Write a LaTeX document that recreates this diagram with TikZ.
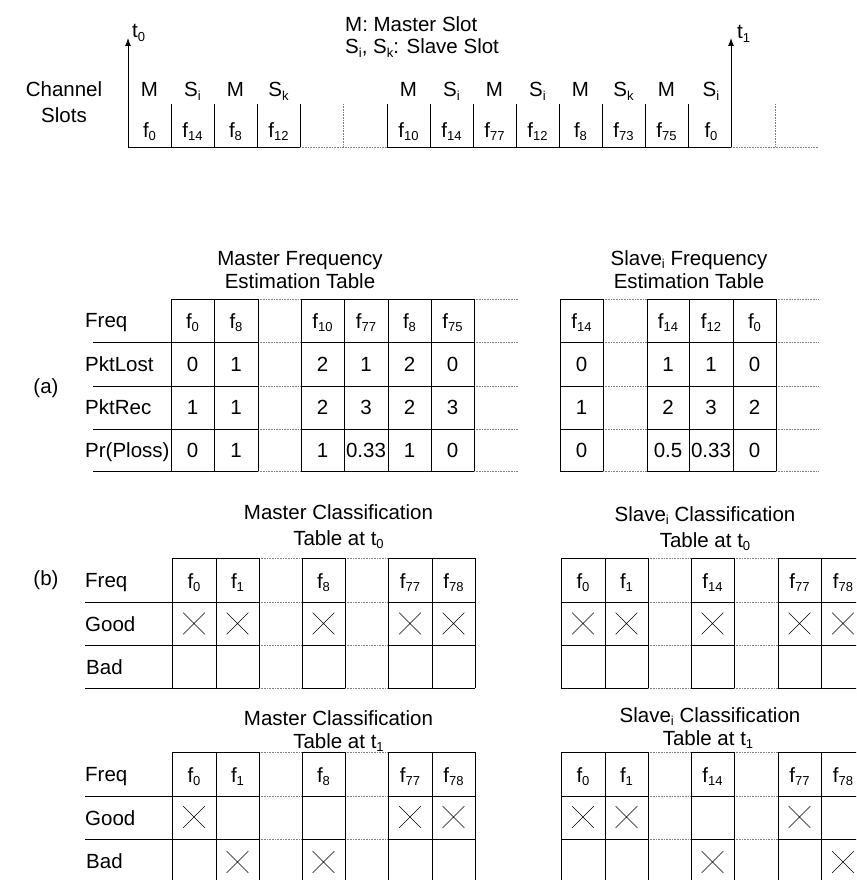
\documentclass[tikz,border=0pt]{standalone}
\usepackage{fontspec}
\setmainfont{Liberation Sans}
\usetikzlibrary{positioning,arrows.meta,shapes.misc}

\newcommand{\lsub}[1]{\raisebox{-3.4pt}{\fontsize{13}{13}\selectfont #1}}
\newcommand{\fq}[1]{f\lsub{#1}}

\tikzset{
  txt/.style={font=\fontsize{20.5}{24}\selectfont, inner sep=0pt},
  solidline/.style={line width=1pt},
  dotline/.style={gray, line width=0.8pt, dash pattern=on 0.8pt off 0.8pt},
  xmark/.style={cross out, draw, line width=0.6pt, minimum size=21pt, inner sep=0pt}
}

\begin{document}
\begin{tikzpicture}[x=1pt, y=-1pt]
\useasboundingbox (0,0) rectangle (856,880);
\clip (0,0) rectangle (856,880);

% Channel Slots
\node[txt, anchor=base] (chanA) at (64,97) {Channel};
\node[txt, anchor=base] (chanB) at (64,123) {Slots};

\node[txt, anchor=base west] (keyM) at (345,32) {M: Master Slot};
\node[txt, anchor=base west] (keyS) at (345,54) {S\lsub{i}, S\lsub{k}: Slave Slot};

\coordinate (t0base) at (128,147);
\coordinate (t0tip) at (128,38);
\coordinate (t1base) at (731,147);
\coordinate (t1tip) at (731,38);
\draw[solidline, -{Latex[length=8pt,width=6pt]}] (t0base) -- (t0tip);
\draw[solidline, -{Latex[length=8pt,width=6pt]}] (t1base) -- (t1tip);
\node[txt, anchor=base west] (tzero) at (132,38) {t\lsub{0}};
\node[txt, anchor=base west] (tone) at (737,39) {t\lsub{1}};

\draw[solidline] (t0base) -- (300,147);
\draw[dotline] (300,147) -- (387,147);
\draw[solidline] (387,147) -- (t1base);
\draw[dotline] (t1base) -- (818,147);
\foreach \x in {171,214,257,300,387,430,473,516,559,602,645,688}
  \draw[solidline] (\x,104) -- (\x,147);
\foreach \x in {343,775}
  \draw[dotline] (\x,104) -- (\x,147);

\foreach \x/\s/\f [count=\i] in {149.5/M/0, 192.5/S\lsub{i}/14, 235.5/M/8,
    278.5/S\lsub{k}/12, 408.5/M/10, 451.5/S\lsub{i}/14, 494.5/M/77,
    537.5/S\lsub{i}/12, 580.5/M/8, 623.5/S\lsub{k}/73, 666.5/M/75, 711/S\lsub{i}/0} {
  \node[txt, anchor=base] (slot\i) at (\x,97) {\s};
  \node[txt, anchor=base] (chf\i) at (\x,137) {\fq{\f}};
}

% (a) Frequency Estimation Tables
\node[txt, anchor=base] (parta) at (46,393) {(a)};

\node[txt, anchor=base] (mfestA) at (300,265) {Master Frequency};
\node[txt, anchor=base] (mfestB) at (300,288) {Estimation Table};
\node[txt, anchor=base] (sfestA) at (689,265) {Slave\lsub{i} Frequency};
\node[txt, anchor=base] (sfestB) at (689,288) {Estimation Table};

\foreach \y in {342,386,429,471}
  \draw[solidline] (93,\y) -- (258,\y) (301,\y) -- (474,\y);
\draw[solidline] (171,299) -- (258,299) (301,299) -- (474,299);
\foreach \y in {299,342,386,429,471} {
  \draw[dotline] (258,\y) -- (301,\y) (474,\y) -- (518,\y);
  \draw[solidline] (560,\y) -- (603,\y) (647,\y) -- (776,\y);
  \draw[dotline] (603,\y) -- (647,\y) (776,\y) -- (818,\y);
}
\foreach \x in {171,214,258,301,344,388,431,474,560,603,647,689,733,776}
  \draw[solidline] (\x,299) -- (\x,471);

\foreach \t/\y [count=\i] in {Freq/327.5, PktLost/371, PktRec/414.5, Pr(Ploss)/457}
  \node[txt, anchor=base west] (mrow\i) at (85,\y) {\t};

\foreach \x/\f/\a/\b/\c [count=\i] in {192.5/0/0/1/0, 236/8/1/1/1, 322.5/10/2/2/1,
    366/77/1/3/0.33, 409.5/8/2/2/1, 452.5/75/0/3/0} {
  \node[txt, anchor=base] (mf\i) at (\x,328.5) {\fq{\f}};
  \node[txt, anchor=base] (ml\i) at (\x,371) {\a};
  \node[txt, anchor=base] (mr\i) at (\x,414.5) {\b};
  \node[txt, anchor=base] (mp\i) at (\x,457) {\c};
}
\foreach \x/\f/\a/\b/\c [count=\i] in {581.5/14/0/1/0, 668/14/1/2/0.5,
    711/12/1/3/0.33, 754.5/0/0/2/0} {
  \node[txt, anchor=base] (sf\i) at (\x,328.5) {\fq{\f}};
  \node[txt, anchor=base] (sl\i) at (\x,371) {\a};
  \node[txt, anchor=base] (sr\i) at (\x,414.5) {\b};
  \node[txt, anchor=base] (sp\i) at (\x,457) {\c};
}

% (b) Classification Tables
\node[txt, anchor=base] (partb) at (46,585) {(b)};

\node[txt, anchor=base] (mcl0A) at (338.5,519) {Master Classification};
\node[txt, anchor=base] (mcl0B) at (338.5,545) {Table at t\lsub{0}};
\node[txt, anchor=base] (scl0A) at (705,521) {Slave\lsub{i} Classification};
\node[txt, anchor=base] (scl0B) at (705,547) {Table at t\lsub{0}};
\node[txt, anchor=base] (mcl1A) at (338.5,725) {Master Classification};
\node[txt, anchor=base] (mcl1B) at (338.5,748) {Table at t\lsub{1}};
\node[txt, anchor=base] (scl1A) at (710,722) {Slave\lsub{i} Classification};
\node[txt, anchor=base] (scl1B) at (708,745) {Table at t\lsub{1}};

\foreach \t [count=\k] in {558,752} {
  % master grid
  \draw[solidline] (172,\t) -- (259,\t) (302,\t) -- (345,\t) (388,\t) -- (475,\t);
  \foreach \d in {44,87,130}
    \draw[solidline] (85,\t+\d) -- (259,\t+\d) (302,\t+\d) -- (345,\t+\d) (388,\t+\d) -- (475,\t+\d);
  \foreach \d in {0,44,87,130}
    \draw[dotline] (259,\t+\d) -- (302,\t+\d) (345,\t+\d) -- (388,\t+\d);
  \foreach \x in {172,216,259,302,345,388,432,475}
    \draw[solidline] (\x,\t) -- (\x,\t+130);
  % slave grid
  \foreach \d in {0,44,87,130} {
    \draw[solidline] (561,\t+\d) -- (648,\t+\d) (691,\t+\d) -- (734,\t+\d) (778,\t+\d) -- (870,\t+\d);
    \draw[dotline] (648,\t+\d) -- (691,\t+\d) (734,\t+\d) -- (778,\t+\d);
  }
  \foreach \x in {561,605,648,691,734,778,821,865}
    \draw[solidline] (\x,\t) -- (\x,\t+130);
  % labels
  \node[txt, anchor=base west] (freq\k) at (85,\t+29.5) {Freq};
  \node[txt, anchor=base west] (good\k) at (85,\t+73) {Good};
  \node[txt, anchor=base west] (bad\k) at (86,\t+116) {Bad};
  \foreach \x/\f [count=\i] in {194/0, 237.5/1, 323.5/8, 410/77, 453.5/78}
    \node[txt, anchor=base] (mh\k\i) at (\x,\t+30.5) {\fq{\f}};
  \foreach \x/\f [count=\i] in {583/0, 626.5/1, 712.5/14, 799.5/77, 843/78}
    \node[txt, anchor=base] (sh\k\i) at (\x,\t+30.5) {\fq{\f}};
}

% Marks at t0
\foreach \x [count=\i] in {194,237.5,323.5,410,453.5}
  \node[xmark] (mg0\i) at (\x,623.5) {};
\foreach \x [count=\i] in {583,626.5,712.5,799.5,843}
  \node[xmark] (sg0\i) at (\x,623.5) {};

% Marks at t1
\foreach \x [count=\i] in {194,410,453.5}
  \node[xmark] (mg1\i) at (\x,817) {};
\foreach \x [count=\i] in {237.5,323.5}
  \node[xmark] (mb1\i) at (\x,862) {};
\foreach \x [count=\i] in {583,626.5,799.5}
  \node[xmark] (sg1\i) at (\x,817) {};
\foreach \x [count=\i] in {712.5,843}
  \node[xmark] (sb1\i) at (\x,862) {};

\end{tikzpicture}
\end{document}
